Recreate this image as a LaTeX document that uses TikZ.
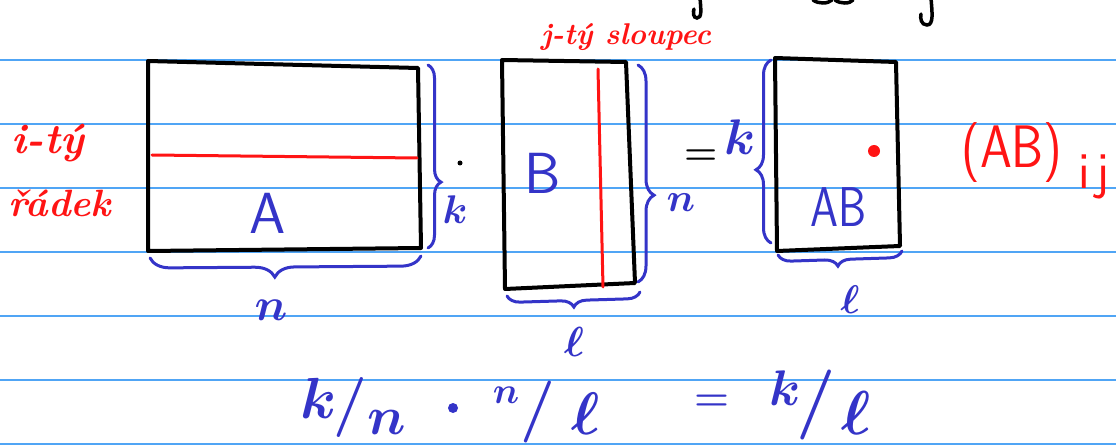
\RequirePackage{fix-cm}
\documentclass[tikz,border=0pt]{standalone}
\usepackage{fontspec}
\usepackage{graphicx}
\usetikzlibrary{decorations.pathreplacing}
\definecolor{ink}{RGB}{52,52,200}
\definecolor{redink}{RGB}{255,20,20}
\definecolor{rulecol}{RGB}{80,165,245}
\begin{document}
\begin{tikzpicture}[x=1pt,y=-1pt,
  ruled/.style={rulecol,line width=1.6pt},
  matbox/.style={black,line width=4pt,line join=round,line cap=round},
  redline/.style={redink,line width=3pt,line cap=round},
  inkbrace/.style 2 args={ink,line width=3pt,line cap=round,decorate,decoration={brace,amplitude=#1,aspect=#2}},
  bluetxt/.style={ink,inner sep=0pt},
  mathtxt/.style={ink,inner sep=0pt,font=\boldmath\fontsize{#1}{#1}\selectfont},
  redtxt/.style={redink,inner sep=0pt},
  blacktxt/.style={black,inner sep=0pt},
  frag/.style={black,line width=3.5pt,line cap=round}
]
\useasboundingbox (0,0) rectangle (1116,446);
\fill[white] (0,0) rectangle (1116,446);
% ruled paper lines
\foreach \yy in {60,124,188,252,316,380,444}{
  \draw[ruled] (0,\yy) -- (1116,\yy);
}
% cut-off handwriting at the top
\draw[frag] (700,-2) .. controls (701,10) and (702,18) .. (697,18) .. controls (693,18) and (693,12) .. (694,9);
\draw[frag] (813,0) .. controls (818,4) and (828,4) .. (832,0);
\draw[frag] (835,0) .. controls (840,4) and (850,4) .. (853,0);
\draw[frag] (931,-2) .. controls (932,12) and (934,25) .. (927,25) .. controls (921,25) and (920,18) .. (921,14);
% matrix A
\coordinate (Atl) at (148,61);
\coordinate (Atr) at (418,68);
\coordinate (Abr) at (421,248);
\coordinate (Abl) at (148,251);
\draw[matbox] (Atl) -- (Atr) -- (Abr) -- (Abl) -- cycle;
\coordinate (rowL) at (152,155);
\coordinate (rowR) at (417,158);
\draw[redline] (rowL) -- (rowR);
\node[bluetxt,font=\sffamily\fontsize{58}{60}\selectfont] (labA) at (268,213) {A};
% braces of A
\coordinate (Abr1) at (428,65);
\coordinate (Abr2) at (428,248);
\draw[inkbrace={13pt}{0.64}] (Abr1) -- (Abr2);
\node[mathtxt=40] (kA) at (455,210) {$k$};
\coordinate (Abb1) at (421,256);
\coordinate (Abb2) at (150,258);
\draw[inkbrace={20pt}{0.54}] (Abb1) -- (Abb2);
\node[mathtxt=46] (nA) at (271,310) {$n$};
% multiplication dot
\fill[black] (460,163) circle (2.5);
% row label
\node[redtxt,font=\bfseries\itshape\fontsize{42}{42}\selectfont] (rowlab1) at (48,143) {i-tý};
\node[redtxt,font=\bfseries\itshape\fontsize{38}{38}\selectfont] (rowlab2) at (60,203) {řádek};
% matrix B
\coordinate (Btl) at (502,60);
\coordinate (Btr) at (626,62);
\coordinate (Bbr) at (635,283);
\coordinate (Bbl) at (505,289);
\draw[matbox] (Btl) -- (Btr) -- (Bbr) -- (Bbl) -- cycle;
\coordinate (colT) at (598,69);
\coordinate (colB) at (603,287);
\draw[redline] (colT) -- (colB);
\node[bluetxt,font=\sffamily\fontsize{58}{60}\selectfont] (labB) at (543,173) {B};
\node[redtxt,font=\bfseries\itshape\fontsize{30}{30}\selectfont] (collab) at (626,37) {j-tý sloupec};
% braces of B
\coordinate (Bbr1) at (638,65);
\coordinate (Bbr2) at (638,282);
\draw[inkbrace={16pt}{0.6}] (Bbr1) -- (Bbr2);
\node[mathtxt=40] (nB) at (681,203) {$n$};
\coordinate (Bbb1) at (640,292);
\coordinate (Bbb2) at (507,296);
\draw[inkbrace={13pt}{0.5}] (Bbb1) -- (Bbb2);
\node[mathtxt=42] (lB) at (574,342) {$\ell$};
% equals
\node[blacktxt,font=\bfseries\fontsize{38}{38}\selectfont] (eq1) at (701,157) {=};
% matrix AB
\coordinate (Ctl) at (775,58);
\coordinate (Ctr) at (896,62);
\coordinate (Cbr) at (900,246);
\coordinate (Cbl) at (777,251);
\draw[matbox] (Ctl) -- (Ctr) -- (Cbr) -- (Cbl) -- cycle;
\fill[redink] (874,151) circle (6);
\node[bluetxt,font=\sffamily\fontsize{56}{58}\selectfont] (labAB) at (839,207) {\scalebox{0.8}[1]{AB}};
% braces of AB
\coordinate (Cbl1) at (771,243);
\coordinate (Cbl2) at (771,60);
\draw[inkbrace={15pt}{0.4}] (Cbl1) -- (Cbl2);
\node[mathtxt=50] (kC) at (740,137) {$k$};
\coordinate (Cbb1) at (902,251);
\coordinate (Cbb2) at (778,255);
\draw[inkbrace={13pt}{0.52}] (Cbb1) -- (Cbb2);
\node[mathtxt=40] (lC) at (850,300) {$\ell$};
% (AB)_ij
\node[redtxt,font=\sffamily\fontsize{60}{62}\selectfont] (ABij) at (1012,153) {\scalebox{0.85}[1]{(AB)}};
\node[redtxt,font=\sffamily\fontsize{52}{52}\selectfont] (ij) at (1094,177) {i\hspace{6pt}j};
% bottom formula
\node[mathtxt=58] (f1) at (319,398) {$k$};
\node[mathtxt=60] (s1) at (350,407) {$\mkern-5mu/\mkern-5mu$};
\node[mathtxt=54] (f2) at (387,422) {$n$};
\fill[ink] (453,408) circle (5);
\node[mathtxt=37] (f3) at (506,395) {$n$};
\node[mathtxt=62] (s2) at (538,412) {$\mkern-5mu/\mkern-5mu$};
\node[mathtxt=60] (f4) at (586,414) {$\ell$};
\node[bluetxt,font=\bfseries\fontsize{40}{40}\selectfont] (eq2) at (712,403) {=};
\node[mathtxt=50] (f5) at (785,388) {$k$};
\node[mathtxt=70] (s3) at (816,405) {$\mkern-5mu/\mkern-5mu$};
\node[mathtxt=62] (f6) at (856,413) {$\ell$};
\end{tikzpicture}
\end{document}
